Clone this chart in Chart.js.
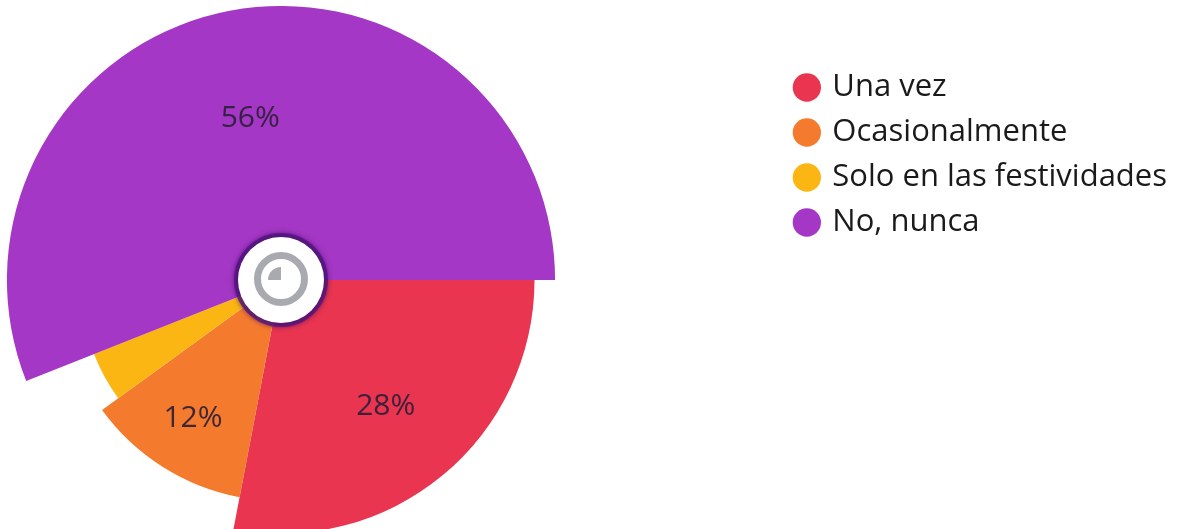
<!DOCTYPE html>
<html>
<head>
<meta charset="utf-8">
<script src="https://cdn.jsdelivr.net/npm/chart.js@4.4.1/dist/chart.umd.min.js"></script>
<style>
  html, body { margin: 0; padding: 0; background: #ffffff; overflow: hidden; }
  #wrap { position: relative; width: 1188px; height: 529px; overflow: hidden; }
  #c { position: absolute; left: -220px; top: 0; }
</style>
</head>
<body>
<div id="wrap"><canvas id="c" width="1408" height="529"></canvas></div>
<script>
// Categories
const categories = ['Una vez', 'Ocasionalmente', 'Solo en las festividades', 'No, nunca'];
// Share of answers (%), sets each slice's angle and its label
const percentages = [28, 12, 4, 56];
// Relative slice lengths (longest slice = 100)
const sliceLengths = [92.5, 80.7, 73.4, 100];
// Slice colours
const colors = ['#e9354f', '#f47a2e', '#fcb614', '#a437c5'];

const sliceLabels = {
  id: 'sliceLabels',
  afterDatasetsDraw(chart) {
    const ctx = chart.ctx;
    const meta = chart.getDatasetMeta(0);
    const scale = chart.scales.r;
    const dist = scale.drawingArea * 0.74;
    ctx.save();
    ctx.font = '30px "Open Sans"';
    ctx.fillStyle = 'rgba(45,30,55,0.92)';
    ctx.textAlign = 'center';
    ctx.textBaseline = 'middle';
    meta.data.forEach((arc, i) => {
      if (percentages[i] < 5) return;
      const p = arc.getProps(['x', 'y', 'startAngle', 'endAngle']);
      const mid = (p.startAngle + p.endAngle) / 2;
      ctx.fillText(percentages[i] + '%', p.x + Math.cos(mid) * dist, p.y + Math.sin(mid) * dist);
    });
    // centre badge
    const cx = scale.xCenter, cy = scale.yCenter;
    ctx.beginPath();
    ctx.arc(cx, cy, 45, 0, Math.PI * 2);
    ctx.strokeStyle = 'rgba(80,20,125,0.75)';
    ctx.lineWidth = 4;
    ctx.shadowColor = 'rgba(70,15,110,0.9)';
    ctx.shadowBlur = 5;
    ctx.stroke();
    ctx.beginPath();
    ctx.arc(cx, cy, 43, 0, Math.PI * 2);
    ctx.fillStyle = '#ffffff';
    ctx.fill();
    ctx.shadowBlur = 0;
    ctx.shadowColor = 'transparent';
    ctx.beginPath();
    ctx.arc(cx, cy - 1, 23.5, 0, Math.PI * 2);
    ctx.strokeStyle = '#a9a9b0';
    ctx.lineWidth = 7;
    ctx.stroke();
    ctx.beginPath();
    ctx.moveTo(cx, cy);
    ctx.arc(cx, cy, 13, Math.PI, Math.PI * 1.5);
    ctx.closePath();
    ctx.fillStyle = '#a9a9b0';
    ctx.fill();
    ctx.restore();
  }
};

new Chart(document.getElementById('c'), {
  type: 'polarArea',
  data: {
    labels: categories,
    datasets: [{
      data: sliceLengths,
      backgroundColor: colors,
      borderWidth: 0,
      angle: (c) => percentages[c.dataIndex] * 3.6
    }]
  },
  options: {
    responsive: false,
    animation: false,
    layout: { padding: { left: 0, right: 11, top: 58, bottom: 27 } },
    scales: {
      r: {
        display: false,
        min: 0,
        max: 81,
        startAngle: 90
      }
    },
    plugins: {
      tooltip: { enabled: false },
      legend: {
        position: 'right',
        align: 'start',
        labels: {
          usePointStyle: true,
          pointStyle: 'circle',
          boxWidth: 20,
          boxHeight: 20,
          padding: 14,
          color: '#1a1a1a',
          font: { family: '"Open Sans"', size: 31 }
        }
      }
    }
  },
  plugins: [sliceLabels]
});
</script>
</body>
</html>
